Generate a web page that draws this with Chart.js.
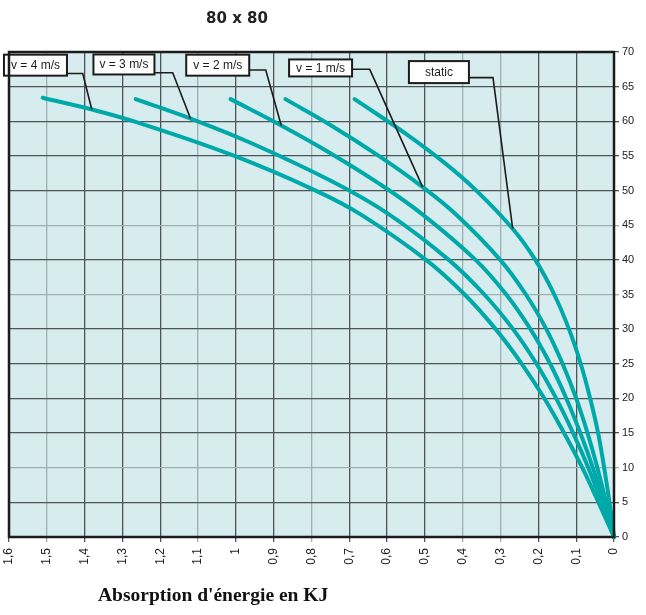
<!DOCTYPE html>
<html>
<head>
<meta charset="utf-8">
<script src="https://cdn.jsdelivr.net/npm/chart.js@4.4.1/dist/chart.umd.min.js"></script>
<style>
  body { margin: 0; background: #fff; }
  #wrap { position: relative; width: 646px; height: 615px; }
  #title { position: absolute; left: 0; top: 9px; width: 474px; text-align: center;
           font: bold 15px "DejaVu Sans", sans-serif; color: #222; }
  #caption { position: absolute; left: 98px; top: 584px;
             font: bold 19.5px "Liberation Serif", serif; color: #111; }
</style>
</head>
<body>
<div id="wrap">
  <canvas id="chartEnergy" width="646" height="615"></canvas>
  <div id="title">80 x 80</div>
  <div id="caption">Absorption d'énergie en KJ</div>
</div>
<script>
// energy absorbed (KJ) on x, force on y, one pair of arrays per speed
var energyV4 = [1.511, 1.381, 1.259, 1.009, 0.789, 0.668, 0.497, 0.395, 0.313, 0.244, 0.184, 0.132, 0.084, 0.041, 0];
var forceV4  = [63.4, 61.7, 59.8, 55.1, 50, 46.5, 40, 35, 30, 25, 20, 15, 10, 5, 0];

var energyV3 = [1.265, 1.12, 0.957, 0.745, 0.593, 0.437, 0.343, 0.267, 0.205, 0.153, 0.108, 0.068, 0.033, 0];
var forceV3  = [63.2, 60.4, 56.8, 51.3, 46.5, 40, 35, 30, 25, 20, 15, 10, 5, 0];

var energyV2 = [1.014, 0.88, 0.75, 0.621, 0.505, 0.366, 0.285, 0.221, 0.169, 0.126, 0.089, 0.056, 0.027, 0];
var forceV2  = [63.2, 59.4, 55.4, 51, 46.5, 40, 35, 30, 25, 20, 15, 10, 5, 0];

var energyV1 = [0.869, 0.748, 0.622, 0.506, 0.417, 0.301, 0.233, 0.179, 0.136, 0.100, 0.070, 0.044, 0.021, 0];
var forceV1  = [63.2, 59.4, 55, 50.5, 46.5, 40, 35, 30, 25, 20, 15, 10, 5, 0];

var energyStatic = [0.686, 0.553, 0.448, 0.364, 0.268, 0.208, 0.158, 0.119, 0.088, 0.063, 0.042, 0.026, 0.012, 0];
var forceStatic  = [63.2, 58.3, 54, 50, 44.5, 40, 35, 30, 25, 20, 15, 10, 5, 0];

var seriesNames = ['v = 4 m/s', 'v = 3 m/s', 'v = 2 m/s', 'v = 1 m/s', 'static'];

function toPoints(xs, ys) {
  return xs.map(function (x, i) { return { x: x, y: ys[i] }; });
}

// label boxes: center + elbow in axis units, leader ends on a point of its curve
var callouts = [
  { ds: 0, pt: 1, cx: 1.530, cy: 68.1, w: 63, h: 21, bx: 1.405, by: 66.9 },
  { ds: 1, pt: 1, cx: 1.296, cy: 68.2, w: 61, h: 20, bx: 1.167, by: 67.0 },
  { ds: 2, pt: 1, cx: 1.048, cy: 68.1, w: 63, h: 21, bx: 0.921, by: 67.4 },
  { ds: 3, pt: 3, cx: 0.776, cy: 67.7, w: 63, h: 17, bx: 0.646, by: 67.5 },
  { ds: 4, pt: 4, cx: 0.463, cy: 67.1, w: 60, h: 22, bx: 0.320, by: 66.3 }
];

var lightX = [1.5, 1.1, 0.8, 0.4, 0.3];
var lightY = [45, 35, 10];

function gridColor(list) {
  return function (ctx) {
    var v = Math.round(ctx.tick.value * 10) / 10;
    return list.indexOf(v) >= 0 ? '#9fb0b2' : '#4d5556';
  };
}

var plotFrame = {
  id: 'plotFrame',
  beforeDraw: function (chart) {
    var a = chart.chartArea, c = chart.ctx;
    c.save();
    c.fillStyle = '#d6ecee';
    c.fillRect(a.left, a.top, a.right - a.left, a.bottom - a.top);
    c.restore();
  },
  afterDraw: function (chart) {
    var a = chart.chartArea, c = chart.ctx;
    c.save();
    c.strokeStyle = '#1c1c1c';
    c.lineWidth = 2.5;
    c.strokeRect(a.left, a.top, a.right - a.left, a.bottom - a.top);
    c.restore();
  }
};

var calloutLabels = {
  id: 'calloutLabels',
  afterDatasetsDraw: function (chart) {
    var c = chart.ctx, xs = chart.scales.x, ys = chart.scales.y;
    c.save();
    callouts.forEach(function (o) {
      var cx = xs.getPixelForValue(o.cx), cy = ys.getPixelForValue(o.cy);
      var bx = xs.getPixelForValue(o.bx), by = ys.getPixelForValue(o.by);
      var end = chart.getDatasetMeta(o.ds).data[o.pt];
      var left = cx - o.w / 2, top = cy - o.h / 2;

      c.strokeStyle = '#1c1c1c';
      c.lineWidth = 1.6;
      c.beginPath();
      c.moveTo(left + o.w, by);
      c.lineTo(bx, by);
      c.lineTo(end.x, end.y);
      c.stroke();

      c.fillStyle = '#fff';
      c.fillRect(left, top, o.w, o.h);
      c.lineWidth = 2;
      c.strokeRect(left, top, o.w, o.h);

      c.fillStyle = '#1c1c1c';
      c.font = '12px "Liberation Sans", Arial, sans-serif';
      c.textAlign = 'center';
      c.textBaseline = 'middle';
      c.fillText(seriesNames[o.ds], cx, cy + 0.5);
    });
    c.restore();
  }
};

var curves = [
  toPoints(energyV4, forceV4),
  toPoints(energyV3, forceV3),
  toPoints(energyV2, forceV2),
  toPoints(energyV1, forceV1),
  toPoints(energyStatic, forceStatic)
];

var tickFont = { family: '"Liberation Sans", Arial, sans-serif', size: 11 };

new Chart(document.getElementById('chartEnergy').getContext('2d'), {
  type: 'line',
  data: {
    datasets: curves.map(function (pts, i) {
      return {
        label: seriesNames[i],
        data: pts,
        borderColor: '#00a9a9',
        borderWidth: 4,
        borderCapStyle: 'round',
        borderJoinStyle: 'round',
        pointRadius: 0,
        tension: 0.4,
        clip: false
      };
    })
  },
  options: {
    responsive: false,
    animation: false,
    devicePixelRatio: 1,
    layout: { padding: { top: 52, left: 9, right: 0, bottom: 38 } },
    plugins: { legend: { display: false }, tooltip: { enabled: false } },
    scales: {
      x: {
        type: 'linear',
        reverse: true,
        min: 0,
        max: 1.6,
        afterFit: function (s) { s.height = 40; },
        ticks: {
          stepSize: 0.1,
          autoSkip: false,
          minRotation: 90,
          maxRotation: 90,
          padding: 6,
          color: '#222',
          font: { family: tickFont.family, size: 12 },
          callback: function (v) { return String(Math.round(v * 10) / 10).replace('.', ','); }
        },
        grid: { color: gridColor(lightX), lineWidth: 1.3, tickLength: 5 },
        border: { display: false }
      },
      y: {
        position: 'right',
        min: 0,
        max: 70,
        afterFit: function (s) { s.width = 32; },
        ticks: { stepSize: 5, padding: 3, color: '#222', font: tickFont },
        grid: { color: gridColor(lightY), lineWidth: 1.3, tickLength: 5 },
        border: { display: false }
      }
    }
  },
  plugins: [plotFrame, calloutLabels]
});
</script>
</body>
</html>
